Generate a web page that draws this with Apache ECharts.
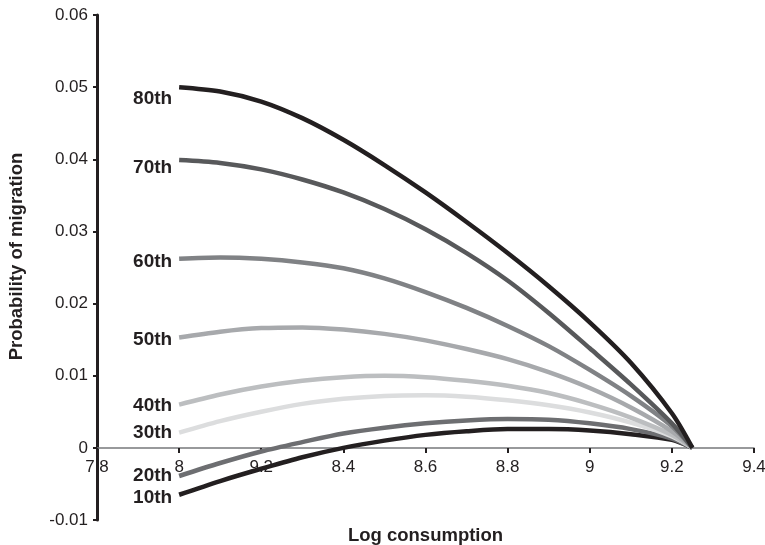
<!DOCTYPE html>
<html>
<head>
<meta charset="utf-8">
<script src="https://cdn.jsdelivr.net/npm/echarts@6/dist/echarts.min.js"></script>
<style>html,body{margin:0;padding:0;background:#fff}#c{width:765px;height:545px}</style>
</head>
<body>
<div id="c"></div>
<script>
// Log consumption sample points
const xs = [8.0, 8.1, 8.2, 8.3, 8.4, 8.5, 8.6, 8.7, 8.8, 8.9, 9.0, 9.1, 9.2, 9.25];
// Probability of migration per consumption percentile
const p80 = [0.0500, 0.0494, 0.0480, 0.0457, 0.0427, 0.0392, 0.0354, 0.0313, 0.0270, 0.0224, 0.0174, 0.0118, 0.0048, 0];
const p70 = [0.0399, 0.0395, 0.0386, 0.0372, 0.0354, 0.0331, 0.0303, 0.0270, 0.0232, 0.0187, 0.0138, 0.0088, 0.0034, 0];
const p60 = [0.0262, 0.0264, 0.0262, 0.0257, 0.0249, 0.0235, 0.0216, 0.0194, 0.0169, 0.0141, 0.0108, 0.0072, 0.0030, 0];
const p50 = [0.0153, 0.0161, 0.0166, 0.0167, 0.0164, 0.0158, 0.0149, 0.0137, 0.0123, 0.0105, 0.0083, 0.0056, 0.0023, 0];
const p40 = [0.0060, 0.0074, 0.0085, 0.0093, 0.0098, 0.0100, 0.0098, 0.0093, 0.0086, 0.0076, 0.0061, 0.0042, 0.0018, 0];
const p30 = [0.0021, 0.0037, 0.0050, 0.0061, 0.0068, 0.0072, 0.0073, 0.0071, 0.0066, 0.0059, 0.0049, 0.0035, 0.0016, 0];
const p20 = [-0.0039, -0.0021, -0.0005, 0.0008, 0.0020, 0.0028, 0.0034, 0.0038, 0.0040, 0.0039, 0.0034, 0.0026, 0.0013, 0];
const p10 = [-0.0065, -0.0046, -0.0029, -0.0013, 0.0000, 0.0010, 0.0018, 0.0023, 0.0026, 0.0026, 0.0024, 0.0019, 0.0011, 0];

const seriesNames = ['10th', '20th', '30th', '40th', '50th', '60th', '70th', '80th'];
const seriesValues = [p10, p20, p30, p40, p50, p60, p70, p80];
const seriesColors = ['#231f20', '#6d6e71', '#dcddde', '#bcbec0', '#a7a9ac', '#808285', '#58595b', '#231f20'];
const labelOffsets = [3, 0, 0, 1, 2, 3, 8, 12];

const xTickLabels = ['7.8', '8', '9.2', '8.4', '8.6', '8.8', '9', '9.2', '9.4'];
const yTickLabels = ['-0.01', '0', '0.01', '0.02', '0.03', '0.04', '0.05', '0.06'];

const FONT = '"Liberation Sans", Arial, Helvetica, sans-serif';

const series = seriesNames.map((name, i) => ({
  name: name,
  type: 'line',
  smooth: 0.3,
  showSymbol: true,
  symbol: 'circle',
  symbolSize: 0,
  lineStyle: { color: seriesColors[i], width: 4.5, cap: 'butt' },
  itemStyle: { color: seriesColors[i] },
  emphasis: { disabled: true },
  label: { show: false },
  data: xs.map((x, j) => {
    if (j === 0) {
      return {
        value: [x, seriesValues[i][j]],
        label: {
          show: true,
          position: 'left',
          distance: 7,
          offset: [0, labelOffsets[i]],
          formatter: name,
          color: '#231f20',
          fontFamily: FONT,
          fontWeight: 'bold',
          fontSize: 19
        }
      };
    }
    return [x, seriesValues[i][j]];
  })
}));

const chart = echarts.init(document.getElementById('c'), null, { renderer: 'canvas' });
chart.setOption({
  animation: false,
  backgroundColor: '#ffffff',
  grid: { left: 97, right: 11, top: 15, bottom: 25, containLabel: false, outerBoundsMode: 'none' },
  xAxis: {
    type: 'value',
    min: 7.8,
    max: 9.4,
    interval: 0.2,
    position: 'bottom',
    offset: -72,
    name: 'Log consumption',
    nameLocation: 'middle',
    nameGap: 78,
    nameTextStyle: { color: '#231f20', fontFamily: FONT, fontWeight: 'bold', fontSize: 18.5 },
    axisLine: { onZero: false, lineStyle: { color: '#77787b', width: 1.5 } },
    axisTick: { show: true, length: 5, inside: false, lineStyle: { color: '#231f20', width: 2 } },
    axisLabel: {
      color: '#231f20', fontFamily: FONT, fontSize: 17, margin: 11,
      formatter: v => xTickLabels[Math.round((v - 7.8) / 0.2)]
    },
    splitLine: { show: false }
  },
  yAxis: {
    type: 'value',
    min: -0.01,
    max: 0.06,
    interval: 0.01,
    name: 'Probability of migration',
    nameLocation: 'middle',
    nameGap: 71,
    nameRotate: 90,
    nameTextStyle: { color: '#231f20', fontFamily: FONT, fontWeight: 'bold', fontSize: 18.5, padding: [0, 0, 0, 22] },
    axisLine: { show: true, onZero: false, lineStyle: { color: '#231f20', width: 3 } },
    axisTick: { show: true, length: 4, lineStyle: { color: '#231f20', width: 2 } },
    axisLabel: {
      color: '#231f20', fontFamily: FONT, fontSize: 17, margin: 9,
      formatter: v => yTickLabels[Math.round((v + 0.01) / 0.01)]
    },
    splitLine: { show: false }
  },
  series: series
});
</script>
</body>
</html>
